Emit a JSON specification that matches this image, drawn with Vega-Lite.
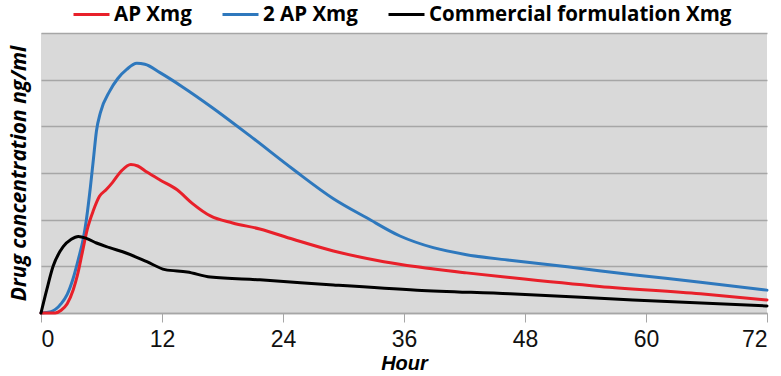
{
  "$schema": "https://vega.github.io/schema/vega-lite/v6.json",
  "width": 726,
  "height": 280,
  "autosize": {"type": "none"},
  "padding": {"left": 41, "top": 33, "right": 14, "bottom": 63},
  "background": "white",
  "config": {
    "view": {"fill": "#d9d9d9", "stroke": null},
    "axis": {"labelFont": "Liberation Sans", "titleFont": "Liberation Sans"}
  },
  "data": {
    "values": [
      {"series": "2 AP Xmg", "hour": 0, "conc": 0},
      {"series": "2 AP Xmg", "hour": 1, "conc": 0.03},
      {"series": "2 AP Xmg", "hour": 2, "conc": 0.2},
      {"series": "2 AP Xmg", "hour": 2.6, "conc": 0.4},
      {"series": "2 AP Xmg", "hour": 3.2, "conc": 0.75},
      {"series": "2 AP Xmg", "hour": 3.7, "conc": 1.15},
      {"series": "2 AP Xmg", "hour": 4.2, "conc": 1.6},
      {"series": "2 AP Xmg", "hour": 4.5, "conc": 2.0},
      {"series": "2 AP Xmg", "hour": 4.9, "conc": 2.7},
      {"series": "2 AP Xmg", "hour": 5.2, "conc": 3.3},
      {"series": "2 AP Xmg", "hour": 5.5, "conc": 3.9},
      {"series": "2 AP Xmg", "hour": 5.9, "conc": 4.3},
      {"series": "2 AP Xmg", "hour": 6.8, "conc": 4.75},
      {"series": "2 AP Xmg", "hour": 7.6, "conc": 5.02},
      {"series": "2 AP Xmg", "hour": 8.5, "conc": 5.22},
      {"series": "2 AP Xmg", "hour": 9.5, "conc": 5.35},
      {"series": "2 AP Xmg", "hour": 10.3, "conc": 5.33},
      {"series": "2 AP Xmg", "hour": 11.8, "conc": 5.15},
      {"series": "2 AP Xmg", "hour": 14, "conc": 4.85},
      {"series": "2 AP Xmg", "hour": 17, "conc": 4.4},
      {"series": "2 AP Xmg", "hour": 20.7, "conc": 3.8},
      {"series": "2 AP Xmg", "hour": 25, "conc": 3.08},
      {"series": "2 AP Xmg", "hour": 29, "conc": 2.45},
      {"series": "2 AP Xmg", "hour": 32.3, "conc": 2.04},
      {"series": "2 AP Xmg", "hour": 35.6, "conc": 1.65},
      {"series": "2 AP Xmg", "hour": 38.9, "conc": 1.4},
      {"series": "2 AP Xmg", "hour": 42.2, "conc": 1.25},
      {"series": "2 AP Xmg", "hour": 46.5, "conc": 1.13},
      {"series": "2 AP Xmg", "hour": 52.2, "conc": 0.99},
      {"series": "2 AP Xmg", "hour": 58.7, "conc": 0.82},
      {"series": "2 AP Xmg", "hour": 65.4, "conc": 0.66},
      {"series": "2 AP Xmg", "hour": 72, "conc": 0.49},

      {"series": "AP Xmg", "hour": 0, "conc": 0},
      {"series": "AP Xmg", "hour": 1.4, "conc": 0},
      {"series": "AP Xmg", "hour": 2.0, "conc": 0.06},
      {"series": "AP Xmg", "hour": 2.6, "conc": 0.2},
      {"series": "AP Xmg", "hour": 3.2, "conc": 0.5},
      {"series": "AP Xmg", "hour": 3.6, "conc": 0.8},
      {"series": "AP Xmg", "hour": 4.1, "conc": 1.3},
      {"series": "AP Xmg", "hour": 4.6, "conc": 1.8},
      {"series": "AP Xmg", "hour": 5.2, "conc": 2.2},
      {"series": "AP Xmg", "hour": 5.8, "conc": 2.5},
      {"series": "AP Xmg", "hour": 6.5, "conc": 2.65},
      {"series": "AP Xmg", "hour": 7.1, "conc": 2.8},
      {"series": "AP Xmg", "hour": 8, "conc": 3.05},
      {"series": "AP Xmg", "hour": 8.9, "conc": 3.18},
      {"series": "AP Xmg", "hour": 9.6, "conc": 3.15},
      {"series": "AP Xmg", "hour": 10.5, "conc": 3.02},
      {"series": "AP Xmg", "hour": 11.8, "conc": 2.85},
      {"series": "AP Xmg", "hour": 13.5, "conc": 2.64},
      {"series": "AP Xmg", "hour": 15, "conc": 2.35},
      {"series": "AP Xmg", "hour": 16.8, "conc": 2.08},
      {"series": "AP Xmg", "hour": 19, "conc": 1.93},
      {"series": "AP Xmg", "hour": 21.7, "conc": 1.8},
      {"series": "AP Xmg", "hour": 25, "conc": 1.58},
      {"series": "AP Xmg", "hour": 29, "conc": 1.33},
      {"series": "AP Xmg", "hour": 34, "conc": 1.1},
      {"series": "AP Xmg", "hour": 37.3, "conc": 0.99},
      {"series": "AP Xmg", "hour": 42.2, "conc": 0.86},
      {"series": "AP Xmg", "hour": 46.5, "conc": 0.76},
      {"series": "AP Xmg", "hour": 55.4, "conc": 0.57},
      {"series": "AP Xmg", "hour": 65.4, "conc": 0.41},
      {"series": "AP Xmg", "hour": 72, "conc": 0.28},

      {"series": "Commercial formulation Xmg", "hour": 0, "conc": 0},
      {"series": "Commercial formulation Xmg", "hour": 0.56, "conc": 0.49},
      {"series": "Commercial formulation Xmg", "hour": 1.2, "conc": 1.0},
      {"series": "Commercial formulation Xmg", "hour": 2.2, "conc": 1.42},
      {"series": "Commercial formulation Xmg", "hour": 3, "conc": 1.58},
      {"series": "Commercial formulation Xmg", "hour": 3.7, "conc": 1.64},
      {"series": "Commercial formulation Xmg", "hour": 4.5, "conc": 1.6},
      {"series": "Commercial formulation Xmg", "hour": 5.5, "conc": 1.5},
      {"series": "Commercial formulation Xmg", "hour": 6.8, "conc": 1.4},
      {"series": "Commercial formulation Xmg", "hour": 8.5, "conc": 1.28},
      {"series": "Commercial formulation Xmg", "hour": 10.5, "conc": 1.1},
      {"series": "Commercial formulation Xmg", "hour": 12.3, "conc": 0.93},
      {"series": "Commercial formulation Xmg", "hour": 14.5, "conc": 0.88},
      {"series": "Commercial formulation Xmg", "hour": 16.8, "conc": 0.77},
      {"series": "Commercial formulation Xmg", "hour": 21.7, "conc": 0.71},
      {"series": "Commercial formulation Xmg", "hour": 29, "conc": 0.6},
      {"series": "Commercial formulation Xmg", "hour": 37.3, "conc": 0.49},
      {"series": "Commercial formulation Xmg", "hour": 46.5, "conc": 0.41},
      {"series": "Commercial formulation Xmg", "hour": 58.7, "conc": 0.28},
      {"series": "Commercial formulation Xmg", "hour": 72, "conc": 0.15}
    ]
  },
  "mark": {"type": "line", "interpolate": "monotone", "strokeWidth": 3, "strokeCap": "round", "strokeJoin": "round"},
  "encoding": {
    "x": {
      "field": "hour", "type": "quantitative",
      "scale": {"domain": [0, 72], "nice": false},
      "axis": {
        "values": [0, 12, 24, 36, 48, 60, 72],
        "title": "Hour",
        "titleFontSize": 20, "titleFontWeight": "bold", "titleFontStyle": "italic", "titleColor": "#000",
        "titlePadding": 2,
        "labelFontSize": 23, "labelColor": "#111", "labelPadding": 6,
        "grid": false, "domainColor": "#a6a6a6", "domainWidth": 1.5,
        "tickColor": "#a6a6a6", "tickSize": 9, "tickWidth": 1
      }
    },
    "y": {
      "field": "conc", "type": "quantitative",
      "scale": {"domain": [0, 6], "nice": false},
      "axis": {
        "values": [0, 1, 2, 3, 4, 5, 6],
        "title": "Drug concentration  ng/ml",
        "titleFont": "Open Sans", "titleFontSize": 21, "titleFontWeight": "bold", "titleFontStyle": "italic", "titleColor": "#000",
        "titlePadding": 12,
        "labels": false, "ticks": false, "domain": false,
        "grid": true, "gridColor": "#a6a6a6", "gridWidth": 1.5
      }
    },
    "color": {
      "field": "series", "type": "nominal",
      "scale": {"domain": ["AP Xmg", "2 AP Xmg", "Commercial formulation Xmg"], "range": ["#e8202a", "#2e78bd", "#000000"]},
      "legend": {
        "orient": "none", "legendX": 31, "legendY": -38, "direction": "horizontal", "title": null,
        "symbolType": "stroke", "symbolSize": 1296, "symbolStrokeWidth": 3,
        "labelFont": "Open Sans", "labelFontSize": 20.5, "labelFontWeight": "bold", "labelColor": "#000",
        "labelOffset": 3, "columnPadding": 24, "labelLimit": 400
      }
    }
  }
}
